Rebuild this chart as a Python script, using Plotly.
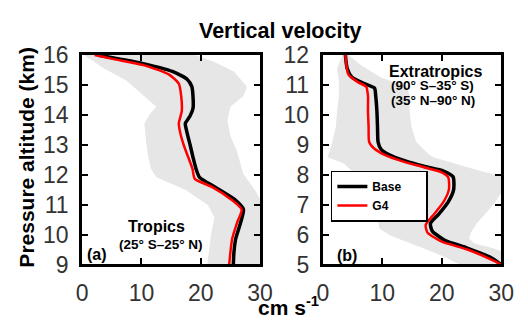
import plotly.graph_objects as go

# ---------------- data ----------------
# Panel (a): Tropics, altitude 9-16 km
trop_base_x = [2.6, 6.4, 10.3, 15.2, 17.7, 18.5, 18.7, 18.7, 18.2, 17.4, 17.7, 18.2, 18.7, 19.2, 19.8, 22.3, 25.6, 27.2, 26.7, 25.9, 25.6, 25.5]
trop_base_y = [16.0, 15.86, 15.71, 15.45, 15.19, 14.94, 14.6, 14.22, 13.96, 13.71, 13.4, 13.0, 12.58, 12.2, 11.91, 11.6, 11.19, 10.84, 10.38, 9.86, 9.4, 9.0]
trop_g4_x = [2.1, 5.3, 10.3, 14.6, 16.3, 16.7, 16.8, 16.3, 16.6, 17.2, 17.9, 18.6, 19.0, 21.8, 25.0, 26.9, 26.1, 25.3, 25.0, 24.8]
trop_g4_y = [16.0, 15.86, 15.66, 15.35, 15.04, 14.63, 14.12, 13.71, 13.35, 12.95, 12.58, 12.2, 11.86, 11.6, 11.19, 10.84, 10.38, 9.86, 9.4, 9.0]
trop_band_lo_x = [0.3, 3.7, 7.5, 9.2, 10.3, 12.5, 11.4, 10.5, 10.8, 11.1, 11.6, 12.5, 17.4, 21.2, 22.3, 21.7, 21.1]
trop_band_lo_y = [16.0, 15.55, 15.14, 14.84, 14.63, 14.27, 14.02, 13.71, 13.09, 12.63, 12.2, 11.91, 11.5, 10.99, 10.58, 9.96, 9.0]
trop_band_hi_x = [19.0, 22.3, 25.6, 27.8, 27.2, 25.0, 24.5, 25.0, 26.1, 27.2, 29.1, 30.0, 30.0]
trop_band_hi_y = [16.0, 15.76, 15.45, 14.94, 14.63, 14.27, 13.81, 13.3, 12.78, 12.02, 11.5, 11.2, 9.0]

# Panel (b): Extratropics, altitude 5-12 km
extra_base_x = [3.8, 4.1, 4.9, 7.0, 8.7, 8.9, 9.1, 9.2, 9.3, 9.8, 11.0, 14.0, 17.0, 20.3, 21.9, 22.0, 21.1, 19.5, 18.1, 18.4, 20.5, 24.3, 28.1, 30.0]
extra_base_y = [12.0, 11.55, 11.25, 11.04, 10.89, 10.63, 10.12, 9.61, 9.09, 8.85, 8.68, 8.45, 8.28, 8.12, 7.93, 7.5, 7.09, 6.68, 6.37, 6.12, 5.81, 5.55, 5.25, 5.0]
extra_g4_x = [3.8, 4.3, 5.9, 7.3, 7.6, 7.6, 7.7, 7.8, 8.5, 10.5, 13.8, 17.0, 20.0, 21.1, 21.2, 20.3, 18.7, 17.3, 17.6, 20.0, 24.3, 28.6, 30.0]
extra_g4_y = [12.0, 11.35, 11.09, 10.94, 10.63, 10.12, 9.61, 9.09, 8.9, 8.65, 8.42, 8.25, 8.08, 7.91, 7.5, 7.09, 6.68, 6.32, 6.07, 5.76, 5.5, 5.14, 5.0]
extra_band_lo_x = [3.3, 2.4, 2.7, 2.7, 2.4, 2.2, 1.6, 1.1, 0.8, 3.5, 6.2, 8.3, 9.1, 9.5, 11.4, 16.8, 20.5, 23.0]
extra_band_lo_y = [12.0, 11.55, 11.14, 10.63, 10.12, 9.61, 9.09, 8.78, 8.58, 8.38, 7.86, 7.35, 6.73, 6.2, 5.96, 5.55, 5.25, 5.0]
extra_band_hi_x = [4.3, 6.5, 9.7, 14.1, 14.6, 14.6, 14.9, 15.7, 17.8, 18.6, 25.6, 30.0, 30.0, 29.0, 27.5, 26.0, 25.0, 24.6, 25.5, 28.5, 30.0, 30.0]
extra_band_hi_y = [12.0, 11.65, 11.25, 10.94, 10.63, 10.12, 9.61, 9.09, 8.68, 8.58, 8.17, 7.95, 7.4, 7.09, 6.73, 6.4, 6.1, 5.88, 5.7, 5.55, 5.45, 5.0]

x_ticks = [0, 10, 20, 30]
series_names = ["Base", "G4"]
series_colors = ["#000000", "#ff0000"]

FONT = "Liberation Sans, Arial, sans-serif"
BAND = "#e6e6e6"
PAD = "&nbsp;" * 6

fig = go.Figure()

def add_panel(xa, ya, band_lo_x, band_lo_y, band_hi_x, band_hi_y, bx, by, gx, gy, legend):
    fig.add_trace(go.Scatter(
        x=band_lo_x + band_hi_x[::-1], y=band_lo_y + band_hi_y[::-1],
        fill="toself", fillcolor=BAND, line=dict(width=0), mode="lines",
        showlegend=False, hoverinfo="skip", xaxis=xa, yaxis=ya))
    fig.add_trace(go.Scatter(
        x=bx, y=by, mode="lines", name="<b>%s</b>%s" % (series_names[0], PAD),
        line=dict(color=series_colors[0], width=3.5, shape="spline", smoothing=0.6),
        showlegend=legend, xaxis=xa, yaxis=ya))
    fig.add_trace(go.Scatter(
        x=gx, y=gy, mode="lines", name="<b>%s</b>%s" % (series_names[1], PAD),
        line=dict(color=series_colors[1], width=2.5, shape="spline", smoothing=0.6),
        showlegend=legend, xaxis=xa, yaxis=ya))

add_panel("x", "y", trop_band_lo_x, trop_band_lo_y, trop_band_hi_x, trop_band_hi_y,
          trop_base_x, trop_base_y, trop_g4_x, trop_g4_y, False)
add_panel("x2", "y2", extra_band_lo_x, extra_band_lo_y, extra_band_hi_x, extra_band_hi_y,
          extra_base_x, extra_base_y, extra_g4_x, extra_g4_y, True)

W, H = 528, 330
ydom = [1 - 273 / H, 1 - 45.5 / H]

axis_common = dict(
    showline=True, linewidth=3, linecolor="black", mirror="ticks",
    ticks="inside", ticklen=6, tickwidth=2, tickcolor="black",
    showgrid=False, zeroline=False,
    tickfont=dict(family=FONT, size=23, color="#333333"),
)

fig.update_layout(
    width=W, height=H,
    margin=dict(l=0, r=0, t=0, b=0),
    paper_bgcolor="white", plot_bgcolor="white",
    xaxis=dict(domain=[79 / W, 263.5 / W], range=[0, 30], tickvals=x_ticks,
               anchor="y", ticklabelstandoff=6, **axis_common),
    xaxis2=dict(domain=[328.6 / W, 513.7 / W], range=[0, 30], tickvals=x_ticks,
                anchor="y2", ticklabelstandoff=6, **axis_common),
    yaxis=dict(domain=ydom, range=[9, 16], dtick=1, anchor="x",
               ticklabelstandoff=6, **axis_common),
    yaxis2=dict(domain=ydom, range=[5, 12], dtick=1, anchor="x2",
                ticklabelstandoff=6, **axis_common),
    legend=dict(x=337 / W, y=1 - 171 / H, xanchor="left", yanchor="top",
                bordercolor="black", borderwidth=1.5, bgcolor="white",
                font=dict(family=FONT, size=12, color="black"),
                tracegroupgap=0),
    showlegend=True,
)

def ann(text, px, py, size, angle=0):
    fig.add_annotation(text=text, x=px / W, y=1 - py / H, xref="paper", yref="paper",
                       showarrow=False, textangle=angle, xanchor="center", yanchor="middle",
                       font=dict(family=FONT, size=size, color="black"))

ann("<b>Vertical velocity</b>", 284.5, 20, 21.5)
ann("<b>Pressure altitude (km)</b>", 21.7, 156, 21, angle=-90)
ann("<b>cm s<sup>-1</sup></b>", 293, 318, 21)
ann("<b>Tropics</b>", 156.5, 231.7, 16)
ann("<b>(25° S–25° N)</b>", 161, 251.7, 13.5)
ann("<b>(a)</b>", 94, 261.7, 16)
ann("<b>Extratropics</b>", 445.3, 63, 16)
ann("<b>(90° S–35° S)</b>", 442, 79, 13.5)
ann("<b>(35° N–90° N)</b>", 443, 95.5, 13.5)
ann("<b>(b)</b>", 353.5, 263.3, 16)

fig.write_html("out.html", config={"displayModeBar": False},
               post_script="document.body.style.margin='0px';")
